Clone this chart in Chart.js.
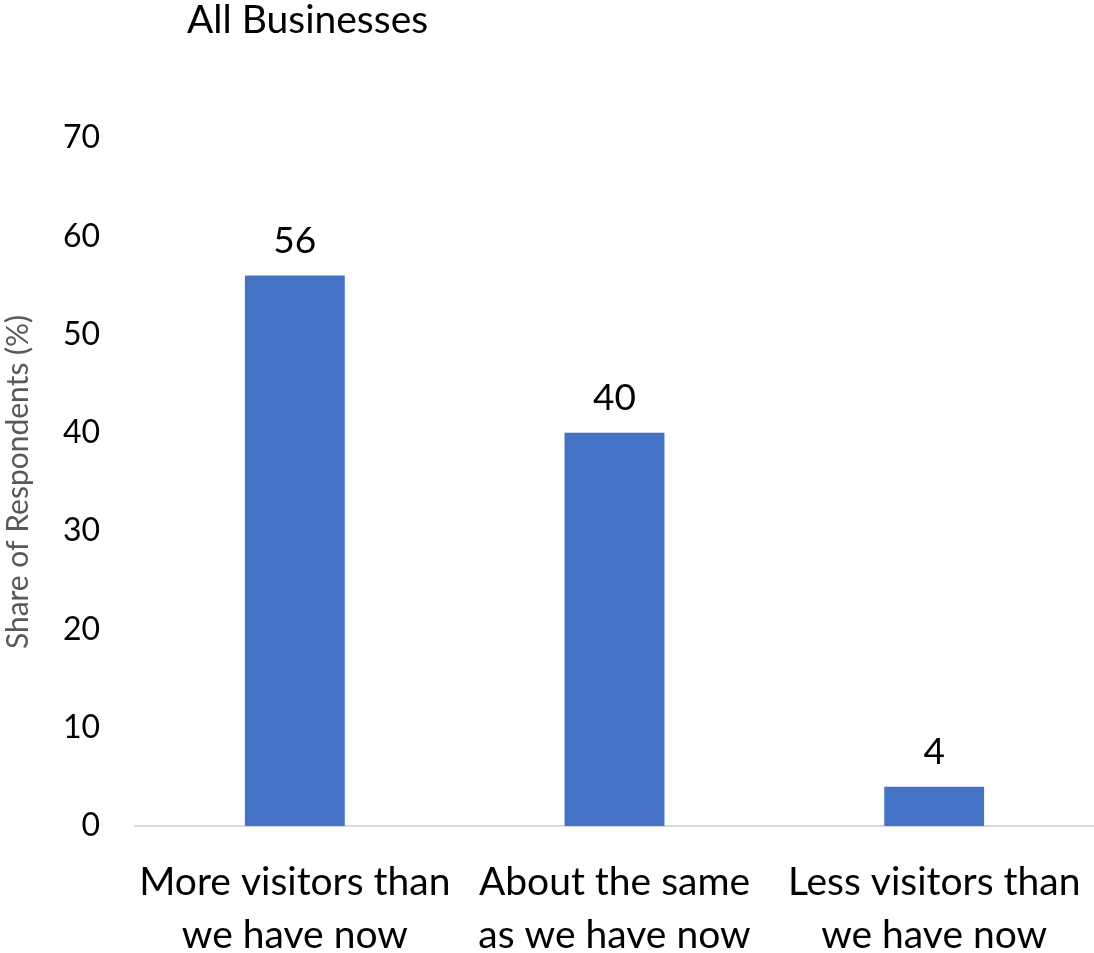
<!DOCTYPE html>
<html>
<head>
<meta charset="utf-8">
<script src="https://cdn.jsdelivr.net/npm/chart.js@4/dist/chart.umd.min.js"></script>
<style>
  html, body { margin: 0; padding: 0; background: #fff; }
  #wrap { width: 1094px; height: 953px; }
</style>
</head>
<body>
<div id="wrap"><canvas id="chart"></canvas></div>
<script>
const categories = [
  ["More visitors than", "we have now"],
  ["About the same", "as we have now"],
  ["Less visitors than", "we have now"]
];
const shares = [56, 40, 4];
const yTicks = [0, 10, 20, 30, 40, 50, 60, 70];

const FONT = "Lato, 'Open Sans', sans-serif";

// heading in the top-left, offset from the plot edge
const heading = {
  id: "heading",
  afterDraw(chart) {
    const ctx = chart.ctx;
    ctx.save();
    ctx.font = "39px " + FONT;
    ctx.fillStyle = "#000";
    ctx.textAlign = "left";
    ctx.textBaseline = "alphabetic";
    ctx.fillText("All Businesses", 187, 33);
    ctx.restore();
  }
};

// value above each bar
const barValues = {
  id: "barValues",
  afterDatasetsDraw(chart) {
    const ctx = chart.ctx;
    const meta = chart.getDatasetMeta(0);
    ctx.save();
    ctx.font = "37px " + FONT;
    ctx.fillStyle = "#000";
    ctx.textAlign = "center";
    ctx.textBaseline = "alphabetic";
    meta.data.forEach((bar, i) => {
      ctx.fillText(String(shares[i]), bar.x, bar.y - 23);
    });
    ctx.restore();
  }
};

new Chart(document.getElementById("chart"), {
  type: "bar",
  data: {
    labels: categories,
    datasets: [{
      data: shares,
      backgroundColor: "#4472C4",
      barPercentage: 0.3125,
      categoryPercentage: 1
    }]
  },
  options: {
    responsive: true,
    maintainAspectRatio: false,
    animation: false,
    layout: { padding: { top: 138, bottom: 0, right: 0, left: 0 } },
    plugins: {
      legend: { display: false },
      tooltip: { enabled: false }
    },
    scales: {
      x: {
        afterFit(scale) {
          scale.height = 127;
          scale.paddingLeft = 0;
          scale.paddingRight = 0;
        },
        grid: { display: false, drawTicks: false },
        border: { display: true, color: "#D9D9D9", width: 2 },
        ticks: {
          color: "#000",
          font: { family: FONT, size: 39, lineHeight: 1.36 },
          padding: 30,
          maxRotation: 0,
          autoSkip: false
        }
      },
      y: {
        min: 0,
        max: 70,
        afterFit(scale) { scale.width = 135; },
        afterBuildTicks(scale) { scale.ticks = yTicks.map(v => ({ value: v })); },
        grid: { display: false, drawTicks: false },
        border: { display: false },
        ticks: {
          color: "#000",
          font: { family: FONT, size: 32 },
          padding: 35
        },
        title: {
          display: true,
          text: "Share of Respondents (%)",
          color: "#595959",
          font: { family: FONT, size: 30 },
          padding: { top: 0, bottom: 0 }
        }
      }
    }
  },
  plugins: [heading, barValues]
});
</script>
</body>
</html>
